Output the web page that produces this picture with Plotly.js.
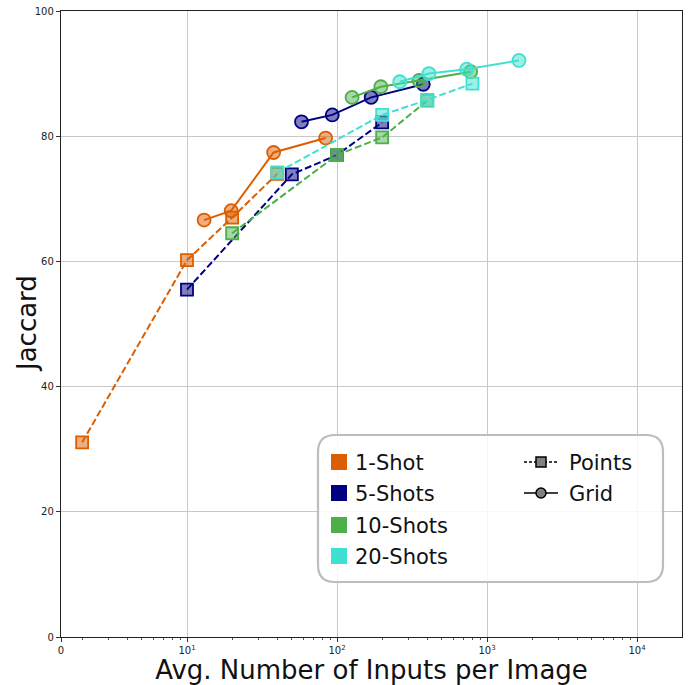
<!DOCTYPE html>
<html>
<head>
<meta charset="utf-8">
<script src="https://cdn.plot.ly/plotly-3.0.1.min.js"></script>
<style>html,body{margin:0;padding:0;background:#fff}#chart{width:694px;height:685px}</style>
</head>
<body>
<div id="chart"></div>
<script>
// ---- data ----
const seriesNames = ['1-Shot', '5-Shots', '10-Shots', '20-Shots'];
const seriesColors = ['#dd5e00', '#000080', '#4daf4a', '#40e0d0'];

const pointsX_1 = [2, 10, 20, 40];
const pointsY_1 = [31.1, 60.2, 67.0, 74.0];
const pointsX_5 = [10, 50, 100, 200];
const pointsY_5 = [55.5, 73.9, 77.0, 82.2];
const pointsX_10 = [20, 100, 200, 400];
const pointsY_10 = [64.5, 77.0, 79.8, 85.7];
const pointsX_20 = [40, 200, 400, 800];
const pointsY_20 = [74.2, 83.4, 85.8, 88.4];

const gridX_1 = [13, 19.7, 37.8, 84];
const gridY_1 = [66.6, 68.1, 77.4, 79.7];
const gridX_5 = [58, 93, 169, 376];
const gridY_5 = [82.3, 83.4, 86.2, 88.3];
const gridX_10 = [126, 196, 352, 778];
const gridY_10 = [86.2, 87.9, 88.9, 90.3];
const gridX_20 = [262, 410, 732, 1634];
const gridY_20 = [88.7, 90.0, 90.7, 92.1];

const xTickText = ['0', '10<sup>1</sup>', '10<sup>2</sup>', '10<sup>3</sup>', '10<sup>4</sup>'];
const yTickVals = [0, 20, 40, 60, 80, 100];
const legendStyleNames = ['Points', 'Grid'];
const xTitle = 'Avg. Number of Inputs per Image';
const yTitle = 'Jaccard';

// ---- build ----
const pointsX = [pointsX_1, pointsX_5, pointsX_10, pointsX_20];
const pointsY = [pointsY_1, pointsY_5, pointsY_10, pointsY_20];
const gridX = [gridX_1, gridX_5, gridX_10, gridX_20];
const gridY = [gridY_1, gridY_5, gridY_10, gridY_20];

function hexA(hex, a) {
  const n = parseInt(hex.slice(1), 16);
  return `rgba(${(n >> 16) & 255},${(n >> 8) & 255},${n & 255},${a})`;
}

const traces = [];
for (let i = 0; i < 4; i++) {
  const c = seriesColors[i];
  traces.push({
    x: pointsX[i], y: pointsY[i], type: 'scatter', mode: 'lines+markers',
    line: { color: c, width: 2, dash: '7px,3px' },
    marker: { symbol: 'square', size: 12, color: hexA(c, 0.5), line: { color: c, width: 1.8 } },
    showlegend: false, name: seriesNames[i] + ' Points'
  });
  traces.push({
    x: gridX[i], y: gridY[i], type: 'scatter', mode: 'lines+markers',
    line: { color: c, width: 2 },
    marker: { symbol: 'circle', size: 13, color: hexA(c, 0.5), line: { color: c, width: 1.8 } },
    showlegend: false, name: seriesNames[i] + ' Grid'
  });
}

const L = 61, R = 682, T = 11, B = 637;
const W = 694, H = 685;
const px = x => (x - L) / (R - L);
const py = y => (B - y) / (B - T);

const xRangeLog = [0.16, 4.3];
const xTickVals = [Math.pow(10, xRangeLog[0]), 10, 100, 1000, 10000];
const xMinorVals = [];
for (let d = 1; d <= 1000; d *= 10) for (let k = 2; k <= 9; k++) xMinorVals.push(k * d);

const shapes = [];
const annotations = [];
// y-axis title
annotations.push({ xref: 'paper', yref: 'paper', x: px(27), y: py(324), xanchor: 'center', yanchor: 'middle',
  text: yTitle, textangle: -90, showarrow: false, font: { family: 'DejaVu Sans', size: 26, color: '#111' } });
// legend box (rounded)
(function () {
  const x0 = 318, x1 = 663, y0 = 435, y1 = 582, r = 17;
  const d = [
    `M ${px(x0 + r)} ${py(y0)}`,
    `L ${px(x1 - r)} ${py(y0)}`,
    `Q ${px(x1)} ${py(y0)} ${px(x1)} ${py(y0 + r)}`,
    `L ${px(x1)} ${py(y1 - r)}`,
    `Q ${px(x1)} ${py(y1)} ${px(x1 - r)} ${py(y1)}`,
    `L ${px(x0 + r)} ${py(y1)}`,
    `Q ${px(x0)} ${py(y1)} ${px(x0)} ${py(y1 - r)}`,
    `L ${px(x0)} ${py(y0 + r)}`,
    `Q ${px(x0)} ${py(y0)} ${px(x0 + r)} ${py(y0)} Z`
  ].join(' ');
  shapes.push({ type: 'path', xref: 'paper', yref: 'paper', path: d,
    fillcolor: 'rgba(255,255,255,0.85)', line: { color: '#bdbdbd', width: 2.2 }, layer: 'above' });
})();
const rows = [462, 493, 525, 556];
for (let i = 0; i < 4; i++) {
  const cy = rows[i];
  shapes.push({ type: 'rect', xref: 'paper', yref: 'paper', x0: px(331), x1: px(347), y0: py(cy + 8), y1: py(cy - 8),
    fillcolor: seriesColors[i], line: { width: 0 }, layer: 'above' });
  annotations.push({ xref: 'paper', yref: 'paper', x: px(353), y: py(cy + 1), xanchor: 'left', yanchor: 'middle',
    text: seriesNames[i], showarrow: false, font: { family: 'DejaVu Sans', size: 21, color: '#111' } });
}
for (let j = 0; j < 2; j++) {
  const cy = rows[j];
  shapes.push({ type: 'line', xref: 'paper', yref: 'paper', x0: px(524), x1: px(558), y0: py(cy), y1: py(cy),
    line: { color: '#000', width: 1.6, dash: j === 0 ? '3px,2px' : 'solid' }, layer: 'above' });
  if (j === 0) {
    shapes.push({ type: 'rect', xref: 'paper', yref: 'paper', x0: px(536), x1: px(546), y0: py(cy + 5), y1: py(cy - 5),
      fillcolor: '#808080', line: { color: '#000', width: 1.5 }, layer: 'above' });
  } else {
    shapes.push({ type: 'circle', xref: 'paper', yref: 'paper', x0: px(536), x1: px(546), y0: py(cy + 5), y1: py(cy - 5),
      fillcolor: '#808080', line: { color: '#000', width: 1.5 }, layer: 'above' });
  }
  annotations.push({ xref: 'paper', yref: 'paper', x: px(567), y: py(cy + 1), xanchor: 'left', yanchor: 'middle',
    text: legendStyleNames[j], showarrow: false, font: { family: 'DejaVu Sans', size: 21, color: '#111' } });
}

const layout = {
  width: W, height: H,
  margin: { l: L, r: W - R, t: T, b: H - B, pad: 0 },
  paper_bgcolor: '#fff', plot_bgcolor: '#fff',
  font: { family: 'DejaVu Sans', color: '#222' },
  xaxis: {
    type: 'log', range: xRangeLog,
    tickmode: 'array', tickvals: xTickVals, ticktext: xTickText,
    ticks: 'outside', ticklen: 4, tickcolor: '#333', tickfont: { size: 10 },
    minor: { tickmode: 'array', tickvals: xMinorVals, ticks: 'outside', ticklen: 2, tickcolor: '#555', showgrid: false },
    showgrid: true, gridcolor: '#c8c8c8', gridwidth: 1,
    showline: true, linecolor: '#222', linewidth: 1.2, mirror: true, zeroline: false,
    title: { text: xTitle, font: { size: 26, color: '#111' }, standoff: 4 }
  },
  yaxis: {
    range: [0, 100], tickmode: 'array', tickvals: yTickVals,
    ticks: 'outside', ticklen: 4, tickcolor: '#333', tickfont: { size: 10 },
    showgrid: true, gridcolor: '#c8c8c8', gridwidth: 1,
    showline: true, linecolor: '#222', linewidth: 1.2, mirror: true, zeroline: false
  },
  shapes: shapes,
  annotations: annotations,
  showlegend: false
};

Plotly.newPlot('chart', traces, layout, { staticPlot: true, displayModeBar: false });
</script>
</body>
</html>
